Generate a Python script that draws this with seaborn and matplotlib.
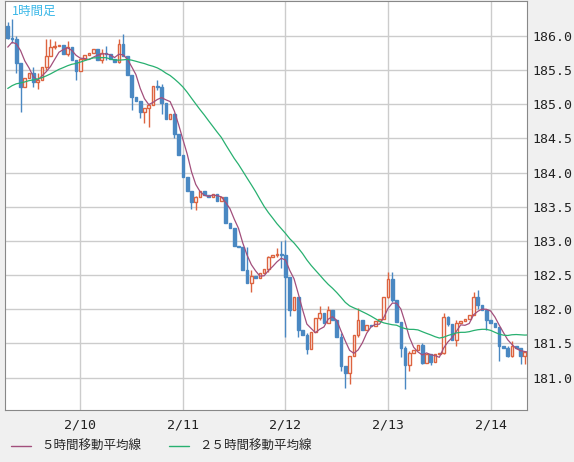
import numpy as np
import pandas as pd
import seaborn as sns
import matplotlib
matplotlib.use('Agg')
import matplotlib.pyplot as plt
from matplotlib.lines import Line2D

# closes before the visible window (needed for the moving averages)
pre_close = [184.95, 184.9, 184.95, 185.0, 184.98, 185.05, 185.0, 185.1, 185.05, 185.1,
             185.0, 185.05, 185.1, 185.15, 185.1, 185.2, 185.15, 185.2, 185.25, 185.3,
             185.6, 185.7, 185.75, 186.15]

# hourly closes, 2/9 07:00 onwards
close = [185.97, 185.95, 185.6, 185.25, 185.39, 185.45, 185.32, 185.35, 185.55, 185.7,
         185.83, 185.85, 185.87, 185.74, 185.83, 185.64, 185.49, 185.66, 185.72, 185.75,
         185.81, 185.64, 185.75, 185.74, 185.66, 185.62, 185.88, 185.71, 185.42, 185.11,
         185.04, 184.88, 184.95, 184.99, 185.27, 185.25, 185.02, 184.79, 184.86, 184.57,
         184.25, 183.94, 183.73, 183.57, 183.64, 183.73, 183.67, 183.64, 183.68, 183.59,
         183.64, 183.26, 183.19, 182.92, 182.91, 182.57, 182.38, 182.49, 182.46, 182.53,
         182.59, 182.76, 182.79, 182.8, 182.79, 182.47, 181.99, 182.18, 181.70, 181.63,
         181.42, 181.67, 181.87, 181.95, 181.80, 181.99, 181.85, 181.60, 181.17, 181.07,
         181.31, 181.63, 181.85, 181.69, 181.77, 181.76, 181.83, 181.86, 182.18, 182.44,
         182.14, 181.82, 181.44, 181.19, 181.36, 181.41, 181.48, 181.22, 181.34, 181.23,
         181.34, 181.36, 181.89, 181.79, 181.55, 181.80, 181.83, 181.86, 181.92, 182.18,
         182.06, 181.99, 181.85, 181.80, 181.74, 181.47, 181.44, 181.32, 181.46, 181.44,
         181.31, 181.38, 181.28]

# notable wick extremes: index -> (high, low)
wicks = {0: (186.2, 185.95), 1: (186.25, 185.9), 2: (186.0, 185.45), 3: (185.6, 184.88),
         6: (185.55, 185.25), 7: (185.45, 185.22), 9: (185.95, 185.5), 10: (185.95, 185.7),
         11: (185.93, 185.8), 14: (185.93, 185.7), 16: (185.63, 185.35), 22: (185.8, 185.6),
         23: (185.85, 185.65), 26: (185.95, 185.6), 27: (186.03, 185.7), 29: (185.42, 184.92),
         31: (185.05, 184.8), 32: (184.9, 184.72), 33: (185.0, 184.67), 35: (185.35, 185.2),
         36: (185.3, 184.85), 39: (184.87, 184.5), 43: (183.73, 183.47), 44: (183.65, 183.45),
         56: (182.91, 182.55), 57: (182.57, 182.25), 61: (182.78, 182.55), 63: (182.9, 182.76),
         64: (183.0, 182.6), 65: (183.02, 181.6), 66: (182.47, 181.9), 68: (182.18, 181.6),
         70: (181.65, 181.35), 73: (182.05, 181.85), 75: (182.05, 181.8), 78: (181.65, 181.1),
         79: (181.17, 180.85), 80: (181.31, 180.9), 82: (182.02, 181.6), 89: (182.55, 182.17),
         90: (182.55, 182.1), 92: (181.82, 181.3), 93: (181.47, 180.83), 94: (181.39, 181.1),
         97: (181.5, 181.2), 99: (181.34, 181.18), 102: (181.95, 181.35), 103: (181.9, 181.75),
         105: (181.85, 181.47), 109: (182.25, 181.92), 110: (182.28, 182.0), 112: (181.99, 181.7),
         115: (181.74, 181.25), 117: (181.47, 181.3), 118: (181.53, 181.3), 120: (181.44, 181.2),
         121: (181.38, 181.2)}

tick_pos = [17, 41, 65, 89, 113]
tick_labels = ['2/10', '2/11', '2/12', '2/13', '2/14']
y_ticks = [181.0, 181.5, 182.0, 182.5, 183.0, 183.5, 184.0, 184.5, 185.0, 185.5, 186.0]

all_close = pd.Series(pre_close + close)
n = len(close)
npre = len(pre_close)
df = pd.DataFrame({
    'idx': np.arange(n),
    'open': all_close.shift(1).iloc[npre:].values,
    'close': close,
    'ma5': all_close.rolling(5).mean().iloc[npre:].values,
    'ma25': all_close.rolling(25).mean().iloc[npre:].values,
})
df['high'] = df[['open', 'close']].max(axis=1)
df['low'] = df[['open', 'close']].min(axis=1)
for i, (h, l) in wicks.items():
    df.loc[i, 'high'] = max(h, df.loc[i, 'high'])
    df.loc[i, 'low'] = min(l, df.loc[i, 'low'])

sns.set_style('white')
plt.rcParams['font.family'] = ['Noto Sans CJK JP', 'DejaVu Sans']

up_c = '#dd6440'
dn_c = '#4a88c2'
fig = plt.figure(figsize=(5.74, 4.62), dpi=100, facecolor='#f0f0f0')
ax = fig.add_axes([0.009, 0.113, 0.909, 0.885])
ax.set_facecolor('white')

for _, r in df.iterrows():
    up = r['close'] >= r['open']
    c = up_c if up else dn_c
    ax.vlines(r['idx'], r['low'], r['high'], color=c, lw=1, zorder=2)
    b0 = min(r['open'], r['close'])
    h = max(abs(r['close'] - r['open']), 0.012)
    ax.bar(r['idx'], h, bottom=b0, width=0.62, color='white' if up else dn_c,
           edgecolor=c, linewidth=1, zorder=3)

sns.lineplot(data=df, x='idx', y='ma5', color='#a24f7c', lw=0.9, ax=ax, zorder=4)
sns.lineplot(data=df, x='idx', y='ma25', color='#28b070', lw=0.9, ax=ax, zorder=4)

ax.set_xlim(-0.6, 121.5)
ax.set_ylim(180.53, 186.51)
ax.set_xticks(tick_pos)
ax.set_xticklabels(tick_labels, family='DejaVu Sans Mono')
ax.set_yticks(y_ticks)
ax.set_yticklabels([f'{v:.1f}' for v in y_ticks], family='DejaVu Sans Mono')
ax.yaxis.tick_right()
ax.grid(True, color='#cccccc', lw=1)
ax.set_xlabel('')
ax.set_ylabel('')
ax.tick_params(labelsize=9.5, length=0, pad=6, colors='#222222')
ax.tick_params(axis='y', pad=4)
for s in ax.spines.values():
    s.set_color('#888888')
ax.text(0.012, 0.99, '1時間足', transform=ax.transAxes, ha='left', va='top',
        color='#3bb8e8', fontsize=9)

handles = [Line2D([], [], color='#a24f7c', lw=1), Line2D([], [], color='#28b070', lw=1)]
fig.legend(handles, ['５時間移動平均線', '２５時間移動平均線'], loc='lower left',
           bbox_to_anchor=(0.0, -0.005), ncol=2, frameon=False, fontsize=9,
           handlelength=1.6, columnspacing=2.2)

fig.savefig('out.png', dpi=100, facecolor=fig.get_facecolor())
